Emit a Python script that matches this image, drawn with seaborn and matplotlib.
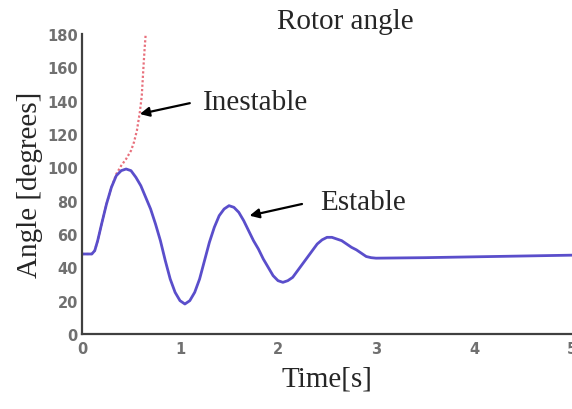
import pandas as pd
import seaborn as sns
import matplotlib.pyplot as plt
from matplotlib import ticker

# stable case: rotor angle (degrees) against time (s)
t_stable = [0.00, 0.10, 0.13, 0.16, 0.20, 0.25, 0.30, 0.35, 0.40, 0.45,
            0.50, 0.55, 0.60, 0.65, 0.70, 0.75, 0.80, 0.85, 0.90, 0.95,
            1.00, 1.05, 1.10, 1.15, 1.20, 1.25, 1.30, 1.35, 1.40, 1.45,
            1.50, 1.55, 1.60, 1.65, 1.70, 1.75, 1.80, 1.85, 1.90, 1.95,
            2.00, 2.05, 2.10, 2.15, 2.20, 2.25, 2.30, 2.35, 2.40, 2.45,
            2.50, 2.55, 2.60, 2.65, 2.70, 2.75, 2.80, 2.85, 2.90, 2.95,
            3.00, 3.50, 4.00, 4.50, 5.00]
a_stable = [48, 48, 50, 56, 66, 78, 88, 95, 98, 99,
            98, 94, 89, 82, 75, 66, 56, 44, 33, 25,
            20, 18, 20, 25, 33, 44, 55, 64, 71, 75,
            77, 76, 73, 68, 62, 56, 51, 45, 40, 35,
            32, 31, 32, 34, 38, 42, 46, 50, 54, 56.5,
            58, 58, 57, 56, 54, 52, 50.5, 48.5, 46.5, 45.8,
            45.5, 45.8, 46.3, 46.8, 47.3]

# unstable case (dotted), goes off the top
t_unstable = [0.00, 0.10, 0.13, 0.16, 0.20, 0.25, 0.30, 0.35, 0.40, 0.45,
              0.50, 0.53, 0.56, 0.59, 0.61, 0.62, 0.63, 0.64, 0.65]
a_unstable = [48, 48, 50, 56, 66, 78, 88, 96, 101, 105,
              110, 115, 122, 133, 143, 153, 163, 172, 180]

x_ticks = [0, 1, 2, 3, 4, 5]
y_ticks = [0, 20, 40, 60, 80, 100, 120, 140, 160, 180]

stable = pd.DataFrame({"time": t_stable, "angle": a_stable})
unstable = pd.DataFrame({"time": t_unstable, "angle": a_unstable})

sns.set_style("white")
serif = "Liberation Serif"

fig = plt.figure(figsize=(5.72, 4.10), dpi=100)
ax = fig.add_axes([82 / 572, 75 / 410, 490 / 572, 300 / 410])

sns.lineplot(data=unstable, x="time", y="angle", ax=ax, color="#e8707c",
             lw=1.6, linestyle=(0, (1, 1)))
sns.lineplot(data=stable, x="time", y="angle", ax=ax, color="#5a4ecb", lw=2.0)

ax.set_xlim(0, 5)
ax.set_ylim(0, 180)
ax.xaxis.set_major_locator(ticker.FixedLocator(x_ticks))
ax.yaxis.set_major_locator(ticker.FixedLocator(y_ticks))
ax.tick_params(direction="in", length=3, width=1.2, color="#444444",
               labelsize=10.5, labelcolor="#707070")
ax.tick_params(axis="x", pad=5)
ax.tick_params(axis="y", pad=3)
for lab in ax.get_xticklabels() + ax.get_yticklabels():
    lab.set_fontweight("bold")
sns.despine(ax=ax)
for s in ["left", "bottom"]:
    ax.spines[s].set_color("#404040")
    ax.spines[s].set_linewidth(1.6)

ax.set_xlabel("Time[s]", family=serif, fontsize=21, labelpad=7)
ax.set_ylabel("Angle [degrees]", family=serif, fontsize=21, labelpad=3)
fig.text(345 / 572, 1 - 22 / 410, "Rotor angle", family=serif, fontsize=21,
         ha="center", va="center")

# arrows and labels
arrow = dict(arrowstyle="-|>", color="black", lw=1.6, mutation_scale=14,
             shrinkA=0, shrinkB=0)
ax.annotate("", xy=(0.59, 132), xytext=(1.10, 138.5), arrowprops=arrow)
ax.text(1.235, 139, "Inestable", family=serif, fontsize=21, va="center")
ax.annotate("", xy=(1.71, 71), xytext=(2.245, 78), arrowprops=arrow)
ax.text(2.43, 79, "Estable", family=serif, fontsize=21, va="center")

plt.savefig("out.png", dpi=100)
